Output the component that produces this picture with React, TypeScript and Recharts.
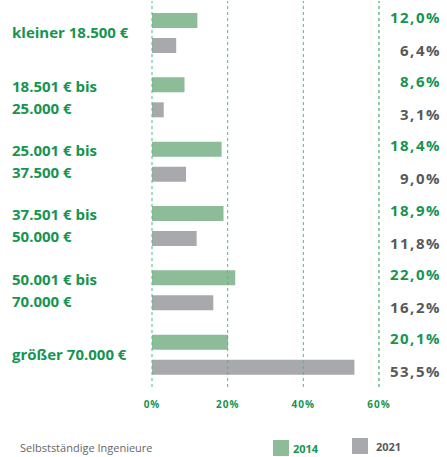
import { Bar, BarChart, LabelList, ReferenceLine, XAxis, YAxis } from "recharts";

const categories = [
  ["kleiner 18.500 €"],
  ["18.501 € bis", "25.000 €"],
  ["25.001 € bis", "37.500 €"],
  ["37.501 € bis", "50.000 €"],
  ["50.001 € bis", "70.000 €"],
  ["größer 70.000 €"],
];
const values2014 = [12.0, 8.6, 18.4, 18.9, 22.0, 20.1];
const values2021 = [6.4, 3.1, 9.0, 11.8, 16.2, 53.5];
const xTicks = [0, 20, 40, 60];

const GREEN_TEXT = "#17944f";
const GRAY_TEXT = "#58595b";
const GREEN_BAR = "#8dbc98";
const GRAY_BAR = "#a8a9ad";
const FONT = "'Open Sans', sans-serif";

const data = categories.map((lines, i) => ({
  name: lines.join(" "),
  lines,
  v2014: values2014[i],
  v2021: values2021[i],
}));

const fmt = (v: number) => v.toFixed(1).replace(".", ",") + "%";

function CategoryTick({ y, index }: any) {
  const lines = data[index]?.lines ?? [];
  const offsets = lines.length === 1 ? [0] : [-11, 11];
  return (
    <text fill={GREEN_TEXT} fontFamily={FONT} fontWeight={700} fontSize={15} textAnchor="start">
      {lines.map((l: string, k: number) => (
        <tspan key={k} x={12} y={y + offsets[k]} dy="0.35em">
          {l}
        </tspan>
      ))}
    </text>
  );
}

function PercentTick({ x, y, payload }: any) {
  return (
    <text x={x} y={y + 13} textAnchor="middle" fill={GREEN_TEXT} fontFamily={FONT} fontWeight={700} fontSize={10} letterSpacing={1}>
      {payload.value}%
    </text>
  );
}

const valueLabel = (color: string, shift: number) => (props: any) => {
  const { y, height, value } = props;
  return (
    <text x={441} y={y + height / 2 + shift} textAnchor="end" fill={color} fontFamily={FONT} fontWeight={700} fontSize={15} letterSpacing={1.5}>
      {fmt(value)}
    </text>
  );
};

export default function App() {
  return (
    <div style={{ position: "absolute", left: 0, top: 0, width: 447, height: 457, background: "#fff" }}>
      <BarChart
        width={447}
        height={457}
        data={data}
        layout="vertical"
        margin={{ top: 1, right: 68, bottom: 40, left: 0 }}
        barSize={15}
        barGap={10}
      >
        {xTicks.map((t) => (
          <ReferenceLine
            key={t}
            x={t}
            stroke={t === 60 ? "#1a9a50" : "#52b784"}
            strokeDasharray="3 3"
            strokeWidth={1}
          />
        ))}
        <XAxis
          type="number"
          domain={[0, 60]}
          ticks={xTicks}
          axisLine={false}
          tickLine={false}
          height={30}
          tick={<PercentTick />}
        />
        <YAxis
          type="category"
          dataKey="name"
          width={152}
          axisLine={false}
          tickLine={false}
          tick={<CategoryTick />}
        />
        <Bar dataKey="v2014" fill={GREEN_BAR} isAnimationActive={false}>
          <LabelList dataKey="v2014" content={valueLabel(GREEN_TEXT, 2)} />
        </Bar>
        <Bar dataKey="v2021" fill={GRAY_BAR} isAnimationActive={false}>
          <LabelList dataKey="v2021" content={valueLabel(GRAY_TEXT, 10)} />
        </Bar>
      </BarChart>
      <div style={{ position: "absolute", left: 20, top: 440, fontFamily: FONT, fontSize: 11, color: "#666" }}>
        Selbstständige Ingenieure
      </div>
      <div style={{ position: "absolute", left: 273, top: 440, width: 16, height: 16, background: GREEN_BAR }} />
      <div style={{ position: "absolute", left: 293, top: 441, fontFamily: FONT, fontSize: 11, fontWeight: 700, color: GREEN_TEXT }}>
        2014
      </div>
      <div style={{ position: "absolute", left: 352, top: 438, width: 16, height: 16, background: GRAY_BAR }} />
      <div style={{ position: "absolute", left: 376, top: 439, fontFamily: FONT, fontSize: 11, fontWeight: 700, color: GRAY_TEXT }}>
        2021
      </div>
    </div>
  );
}
